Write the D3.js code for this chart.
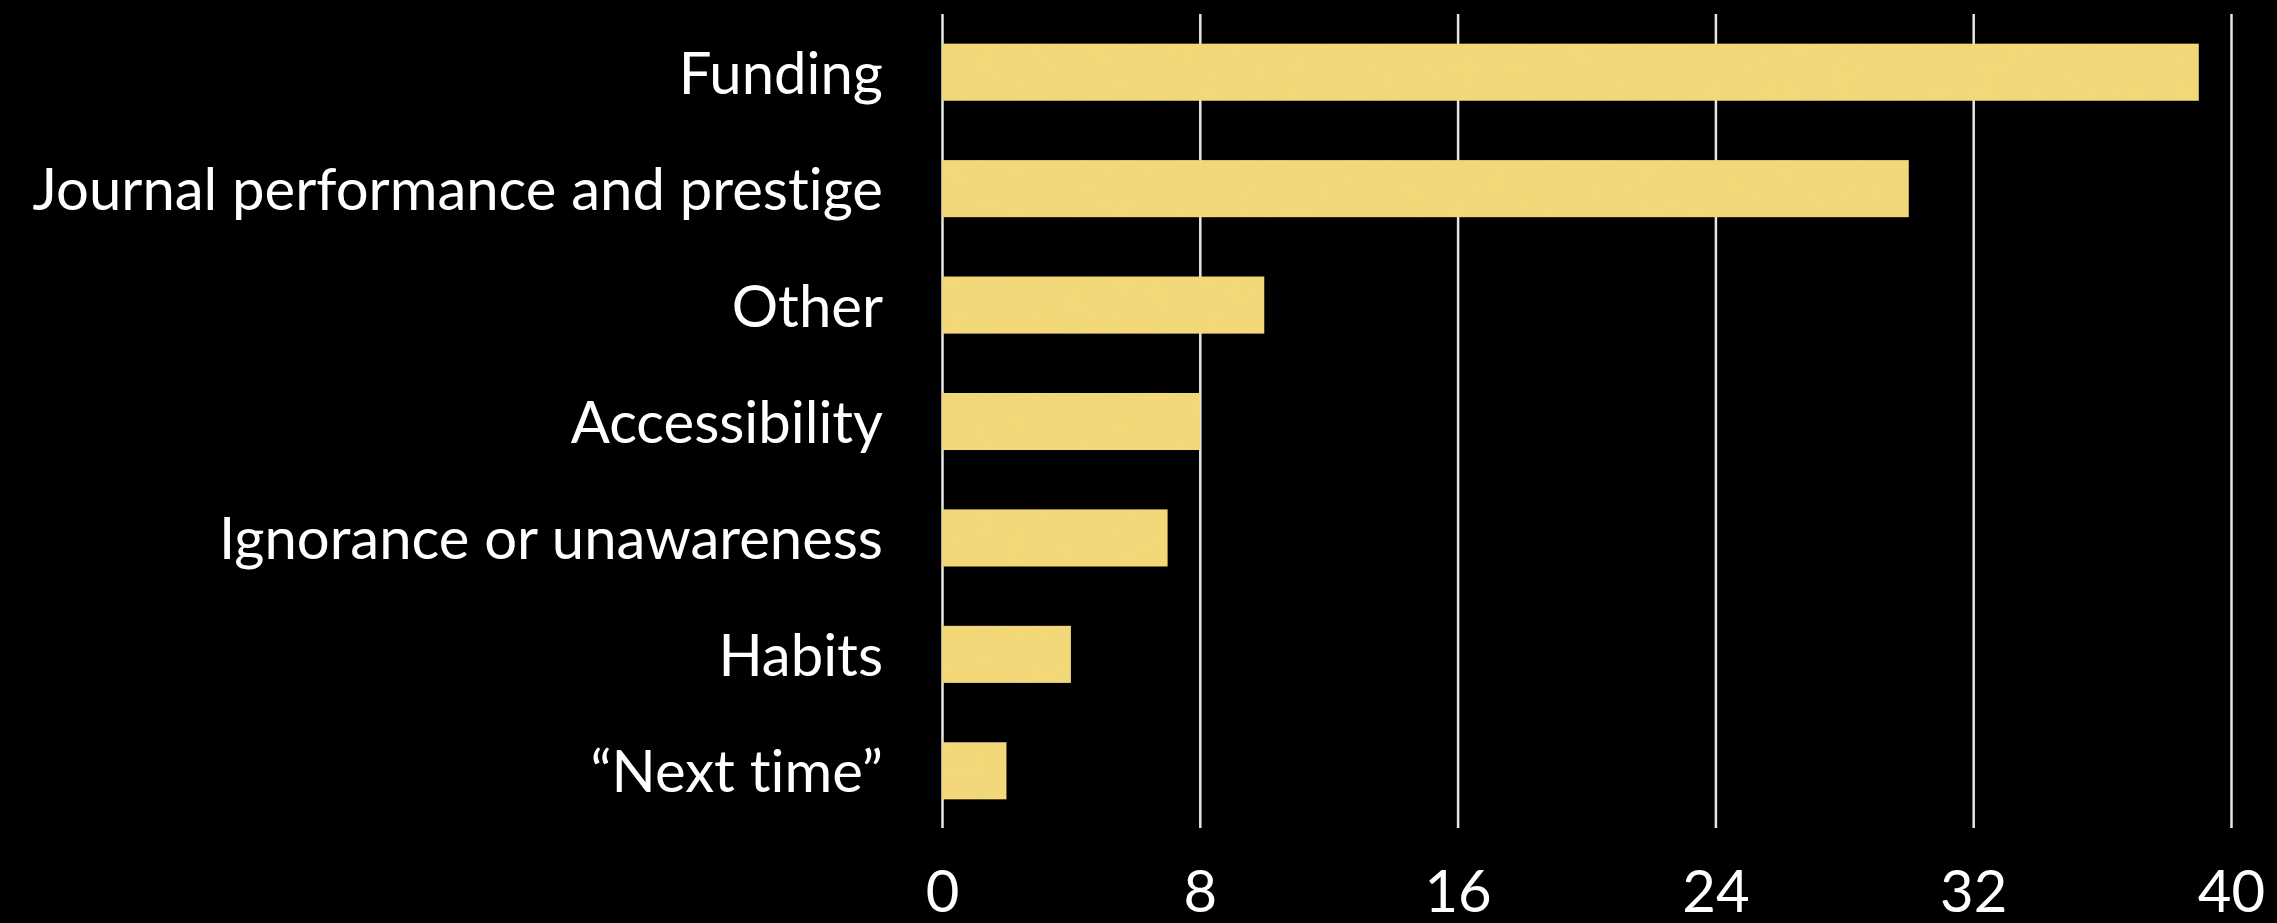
<!DOCTYPE html>
<html>
<head>
<meta charset="utf-8">
<script src="https://cdn.jsdelivr.net/npm/d3@7"></script>
<style>
  html, body { margin: 0; padding: 0; background: #000; }
  svg { display: block; }
  text { font-variant-ligatures: none; font-feature-settings: "liga" 0, "clig" 0; }
</style>
</head>
<body>
<svg id="chart" width="2277" height="923"></svg>
<script>
// Reasons given, and how many respondents named each
const categories = [
  "Funding",
  "Journal performance and prestige",
  "Other",
  "Accessibility",
  "Ignorance or unawareness",
  "Habits",
  "\u201CNext time\u201D"
];
const counts = [39, 30, 10, 8, 7, 4, 2];
const tickValues = [0, 8, 16, 24, 32, 40];

const W = 2277, H = 923;
const plot = { left: 942, right: 2231, top: 14, bottom: 829 };
const fontFamily = "Lato, 'Open Sans', sans-serif";

const svg = d3.select("#chart");
svg.append("rect").attr("width", W).attr("height", H).attr("fill", "#000");

// Soft paper-like mottling on the bars
const defs = svg.append("defs");
const f = defs.append("filter").attr("id", "paper")
  .attr("x", 0).attr("y", 0).attr("width", 1).attr("height", 1);
f.append("feTurbulence").attr("type", "fractalNoise")
  .attr("baseFrequency", "0.035 0.05").attr("numOctaves", 3).attr("seed", 4).attr("result", "noise");
f.append("feColorMatrix").attr("in", "noise").attr("type", "matrix")
  .attr("values", "0 0 0 0 0.80  0 0 0 0 0.68  0 0 0 0 0.25  0 0 0 0.22 0")
  .attr("result", "tint");
f.append("feComposite").attr("in", "tint").attr("in2", "SourceGraphic").attr("operator", "in").attr("result", "spots");
f.append("feMerge").selectAll("feMergeNode").data(["SourceGraphic", "spots"]).join("feMergeNode").attr("in", d => d);

const x = d3.scaleLinear().domain([0, 40]).range([plot.left, plot.right]);
const y = d3.scaleBand().domain(categories).range([plot.top, plot.bottom])
  .paddingInner(0.51).paddingOuter(0.255);

// Vertical gridlines with the value labels underneath
const xAxis = svg.append("g")
  .attr("transform", `translate(0,${plot.bottom - 1})`)
  .call(d3.axisBottom(x).tickValues(tickValues).tickFormat(d3.format("d"))
    .tickSize(-(plot.bottom - 1 - plot.top)).tickPadding(43));
xAxis.select(".domain").remove();
xAxis.selectAll(".tick line").attr("stroke", "#e6e6e6").attr("stroke-width", 2.5);
xAxis.selectAll(".tick text").attr("fill", "#fff")
  .attr("font-family", fontFamily).attr("font-size", 58);

// Bars
svg.append("g").selectAll("rect")
  .data(categories.map((c, i) => ({ c, v: counts[i] })))
  .join("rect")
  .attr("x", x(0))
  .attr("y", d => y(d.c))
  .attr("width", d => x(d.v) - x(0))
  .attr("height", y.bandwidth())
  .attr("fill", "#f4d878")
  .attr("filter", "url(#paper)");

// Category labels
const yAxis = svg.append("g")
  .attr("transform", `translate(${plot.left},0)`)
  .call(d3.axisLeft(y).tickSize(0).tickPadding(59));
yAxis.select(".domain").remove();
yAxis.selectAll(".tick text").attr("fill", "#fff")
  .attr("font-family", fontFamily).attr("font-size", 58).attr("dy", "0.37em");
</script>
</body>
</html>
